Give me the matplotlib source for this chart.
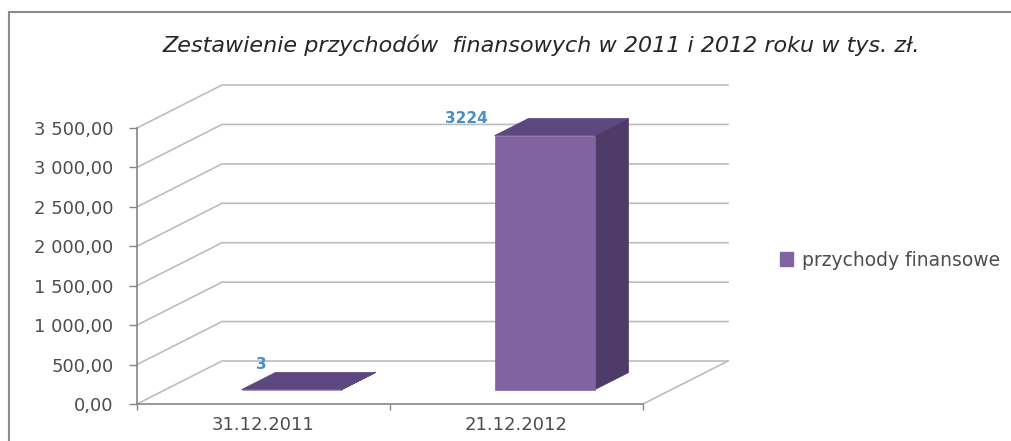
import numpy as np
import matplotlib.pyplot as plt
from matplotlib.patches import Polygon, Patch, Rectangle

categories = ['31.12.2011', '21.12.2012']
values = [3, 3224]
y_ticks = [0, 500, 1000, 1500, 2000, 2500, 3000, 3500]
series_name = 'przychody finansowe'
title = 'Zestawienie przychodów  finansowych w 2011 i 2012 roku w tys. zł.'

W, H = 1011, 441
fig = plt.figure(figsize=(W / 100, H / 100), dpi=100)
ax = fig.add_axes([137 / W, 37 / H, 506 / W, 276 / H])
ax.set_xlim(0, len(categories))
ax.set_ylim(0, y_ticks[-1])

# oblique depth of the 3d box, in data units
DX = 85 * len(categories) / 506
DY = 43 * y_ticks[-1] / 276
grid_c = '#bdbdbd'
axis_c = '#868686'


def proj(x, y, d):
    return x + d * DX, y + d * DY


# walls / gridlines
n = len(categories)
for v in y_ticks:
    ax.plot([0, DX, n + DX], [v, v + DY, v + DY], color=grid_c, lw=1.2,
            clip_on=False, zorder=1)
ax.plot([n, n + DX], [0, DY], color=grid_c, lw=1.2, clip_on=False, zorder=1)

# bars
bw = 0.395
d0, d1 = 0.33, 0.73
front_c, top_c, side_c = '#8064a2', '#5d4780', '#4f3b68'
label_off = [(14, 18), (-20, 12)]
for i, v in enumerate(values):
    xl, xr = i + 0.5 - bw / 2, i + 0.5 + bw / 2
    side = [proj(xr, 0, d0), proj(xr, 0, d1), proj(xr, v, d1), proj(xr, v, d0)]
    top = [proj(xl, v, d0), proj(xr, v, d0), proj(xr, v, d1), proj(xl, v, d1)]
    front = [proj(xl, 0, d0), proj(xr, 0, d0), proj(xr, v, d0), proj(xl, v, d0)]
    for pts, c in [(side, side_c), (top, top_c), (front, front_c)]:
        ax.add_patch(Polygon(pts, closed=True, fc=c, ec=c, lw=0.5,
                             clip_on=False, zorder=3))
    ax.annotate(str(v), xy=proj(xl, v, d0), xytext=label_off[i],
                textcoords='offset points', ha='center', va='center',
                color='#4a90c8', fontsize=11, fontweight='bold',
                annotation_clip=False, zorder=4)

# axes styling
for s in ['top', 'right']:
    ax.spines[s].set_visible(False)
for s in ['left', 'bottom']:
    ax.spines[s].set_color(axis_c)
    ax.spines[s].set_linewidth(1.2)
ax.set_facecolor('none')

tick_labels = [f'{v:,.2f}'.replace(',', ' ').replace('.', ',') for v in y_ticks]
ax.set_yticks(y_ticks, labels=tick_labels)
ax.tick_params(axis='y', length=6, width=1, color=axis_c, pad=11,
               labelsize=13, labelcolor='#4d4d4d')
ax.set_xticks(range(n + 1), labels=[''] * (n + 1))
ax.tick_params(axis='x', which='major', length=4, width=1, color=axis_c)
ax.set_xticks(np.arange(n) + 0.5, labels=categories, minor=True)
ax.tick_params(axis='x', which='minor', length=0, pad=9, labelsize=13,
               labelcolor='#4d4d4d')

fig.text(541 / W, 1 - 45 / H, title, ha='center', va='center',
         style='italic', fontsize=16, color='#262626')

fig.legend(handles=[Patch(fc=front_c, ec=front_c)], labels=[series_name],
           loc='center left', bbox_to_anchor=(763 / W, 1 - 260 / H),
           frameon=False, handlelength=0.7, handleheight=0.7,
           handletextpad=0.5, fontsize=13.5, labelcolor='#4d4d4d')

fig.add_artist(Rectangle((9 / W, -0.1), 1.2, (H - 12) / H + 0.1,
                         transform=fig.transFigure, fill=False,
                         ec='#8c8c8c', lw=1.5))

fig.savefig('out.png', dpi=100)
